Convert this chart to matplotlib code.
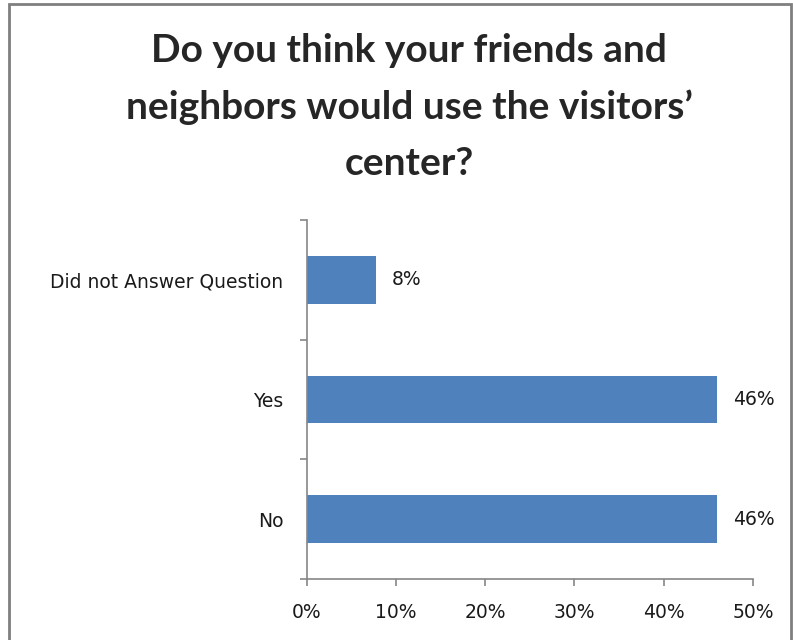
import numpy as np
import matplotlib.pyplot as plt
from matplotlib.patches import Rectangle

# survey answers, bottom to top
answers = ['No', 'Yes', 'Did not Answer Question']
percents = [46, 46, 7.7]
labels = ['46%', '46%', '8%']
xticks = [0, 10, 20, 30, 40, 50]

fig = plt.figure(figsize=(7.93, 6.40), dpi=100)

# grey frame round the whole chart
fig.patches.append(Rectangle((0.011, -0.01), 0.987, 1.003, transform=fig.transFigure,
                             fill=False, edgecolor='#7f7f7f', linewidth=2))

fig.text(0.516, 0.833, 'Do you think your friends and\nneighbors would use the visitors\u2019\ncenter?',
         ha='center', va='center', fontsize=28, fontweight='bold', family='Lato',
         color='#262626', linespacing=1.72)

ax = fig.add_axes([0.387, 0.0953, 0.5624, 0.5609])
y = np.arange(len(answers))
ax.barh(y, percents, height=0.4, color='#4F81BD')

for yi, p, lab in zip(y, percents, labels):
    ax.text(p + 1.8, yi, lab, va='center', ha='left', fontsize=13.5, color='#1a1a1a')

ax.set_xlim(0, 50)
ax.set_ylim(-0.5, len(answers) - 0.5)
ax.set_xticks(xticks)
ax.set_xticklabels([f'{t}%' for t in xticks], fontsize=13.5, color='#1a1a1a')

# category labels sit between the boundary ticks
ax.set_yticks(y)
ax.set_yticklabels(answers, fontsize=13.5, color='#1a1a1a')
ax.tick_params(axis='y', length=0, pad=17)
ax.set_yticks(np.arange(-0.5, len(answers)), minor=True)
ax.tick_params(axis='y', which='minor', length=5, color='#868686', width=1.2)
ax.tick_params(axis='x', length=5, color='#868686', width=1.2, pad=12)

for side in ['top', 'right']:
    ax.spines[side].set_visible(False)
for side in ['left', 'bottom']:
    ax.spines[side].set_color('#868686')
    ax.spines[side].set_linewidth(1.2)

plt.savefig('out.png', dpi=100)
